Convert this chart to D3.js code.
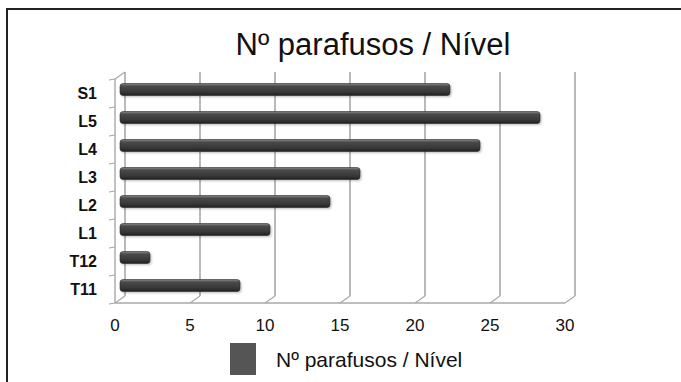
<!DOCTYPE html>
<html>
<head>
<meta charset="utf-8">
<script src="https://cdn.jsdelivr.net/npm/d3@7"></script>
<style>
  html, body { margin: 0; padding: 0; background: #fff; }
  svg { display: block; }
  text { font-family: "Liberation Sans", Arial, sans-serif; fill: #111; }
</style>
</head>
<body>
<svg id="chart" width="681" height="382"></svg>
<script>
// Screws per spinal level
const categories = ["S1", "L5", "L4", "L3", "L2", "L1", "T12", "T11"];
const values = [22, 28, 24, 16, 14, 10, 2, 8];
const xTicks = [0, 5, 10, 15, 20, 25, 30];
const title = "Nº parafusos / Nível";
const seriesName = "Nº parafusos / Nível";

const svg = d3.select("#chart");
const W = 681, H = 382;

// frame
svg.append("rect")
  .attr("x", 7).attr("y", 9).attr("width", W + 10).attr("height", H + 10)
  .attr("fill", "none").attr("stroke", "#222").attr("stroke-width", 2);

// pseudo-3D depth offset of the back wall
const depth = { dx: 10, dy: -7 };

const x = d3.scaleLinear().domain([0, 30]).range([115, 565]);
const y = d3.scaleBand().domain(categories).range([79, 303]).paddingInner(0).paddingOuter(0);

const defs = svg.append("defs");
const grad = defs.append("linearGradient").attr("id", "barGrad")
  .attr("x1", 0).attr("y1", 0).attr("x2", 0).attr("y2", 1);
grad.append("stop").attr("offset", "0%").attr("stop-color", "#8a8a8a");
grad.append("stop").attr("offset", "22%").attr("stop-color", "#4a4a4a");
grad.append("stop").attr("offset", "70%").attr("stop-color", "#383838");
grad.append("stop").attr("offset", "100%").attr("stop-color", "#202020");
const blur = defs.append("filter").attr("id", "shadow")
  .attr("x", "-10%").attr("y", "-50%").attr("width", "120%").attr("height", "200%");
blur.append("feGaussianBlur").attr("stdDeviation", 1.2);

const gridColor = "#a8a8a8";
const grid = svg.append("g");

// back-wall vertical gridlines
grid.selectAll("line.v").data(xTicks).join("line")
  .attr("x1", d => x(d) + depth.dx).attr("x2", d => x(d) + depth.dx)
  .attr("y1", y.range()[0] + depth.dy).attr("y2", y.range()[1] + depth.dy)
  .attr("stroke", gridColor).attr("stroke-width", 1.6);

// floor diagonals
grid.selectAll("line.d").data(xTicks).join("line")
  .attr("x1", d => x(d)).attr("x2", d => x(d) + depth.dx)
  .attr("y1", y.range()[1]).attr("y2", y.range()[1] + depth.dy)
  .attr("stroke", gridColor).attr("stroke-width", 1.2);

// top-left diagonal
grid.append("line")
  .attr("x1", x(0)).attr("x2", x(0) + depth.dx)
  .attr("y1", y.range()[0]).attr("y2", y.range()[0] + depth.dy)
  .attr("stroke", gridColor).attr("stroke-width", 1.2);

// front axes
grid.append("line")
  .attr("x1", x(0)).attr("x2", x(30))
  .attr("y1", y.range()[1]).attr("y2", y.range()[1])
  .attr("stroke", gridColor).attr("stroke-width", 1.4);
grid.append("line")
  .attr("x1", x(0)).attr("x2", x(0))
  .attr("y1", y.range()[0]).attr("y2", y.range()[1])
  .attr("stroke", gridColor).attr("stroke-width", 1.4);

// category tick marks on the left axis
const catTicks = categories.map(c => y(c)).concat([y.range()[1]]);
grid.selectAll("line.ct").data(catTicks).join("line")
  .attr("x1", x(0) - 6).attr("x2", x(0))
  .attr("y1", d => d + 1).attr("y2", d => d)
  .attr("stroke", gridColor).attr("stroke-width", 1.2);

// bars
const barH = 12;
const bars = svg.append("g");
const barY = d => y(d) + y.bandwidth() / 2 + depth.dy / 2 - barH / 2;
const barX0 = x(0) + depth.dx / 2;
const barW = v => x(v) - x(0);

bars.selectAll("rect.sh").data(categories).join("rect")
  .attr("x", barX0 + 1.5).attr("y", d => barY(d) + 1.5)
  .attr("width", (d, i) => barW(values[i])).attr("height", barH)
  .attr("rx", 3).attr("fill", "#000").attr("opacity", 0.25)
  .attr("filter", "url(#shadow)");

bars.selectAll("rect.b").data(categories).join("rect")
  .attr("x", barX0).attr("y", d => barY(d))
  .attr("width", (d, i) => barW(values[i])).attr("height", barH)
  .attr("rx", 3).attr("fill", "url(#barGrad)")
  .attr("stroke", "#2a2a2a").attr("stroke-width", 0.6);

// x tick labels
svg.append("g").selectAll("text").data(xTicks).join("text")
  .attr("x", d => x(d)).attr("y", 331)
  .attr("text-anchor", "middle")
  .attr("font-size", 17)
  .text(d => d);

// category labels
svg.append("g").selectAll("text").data(categories).join("text")
  .attr("x", 97).attr("y", d => y(d) + y.bandwidth() / 2 + 6)
  .attr("text-anchor", "end")
  .attr("font-size", 16).attr("font-weight", "bold")
  .text(d => d);

// title
svg.append("text")
  .attr("x", 373).attr("y", 55)
  .attr("text-anchor", "middle")
  .attr("font-size", 31)
  .text(title);

// legend
svg.append("rect")
  .attr("x", 230).attr("y", 343).attr("width", 26).attr("height", 32)
  .attr("fill", "#555");
svg.append("text")
  .attr("x", 276).attr("y", 367)
  .attr("font-size", 21)
  .text(seriesName);
</script>
</body>
</html>
